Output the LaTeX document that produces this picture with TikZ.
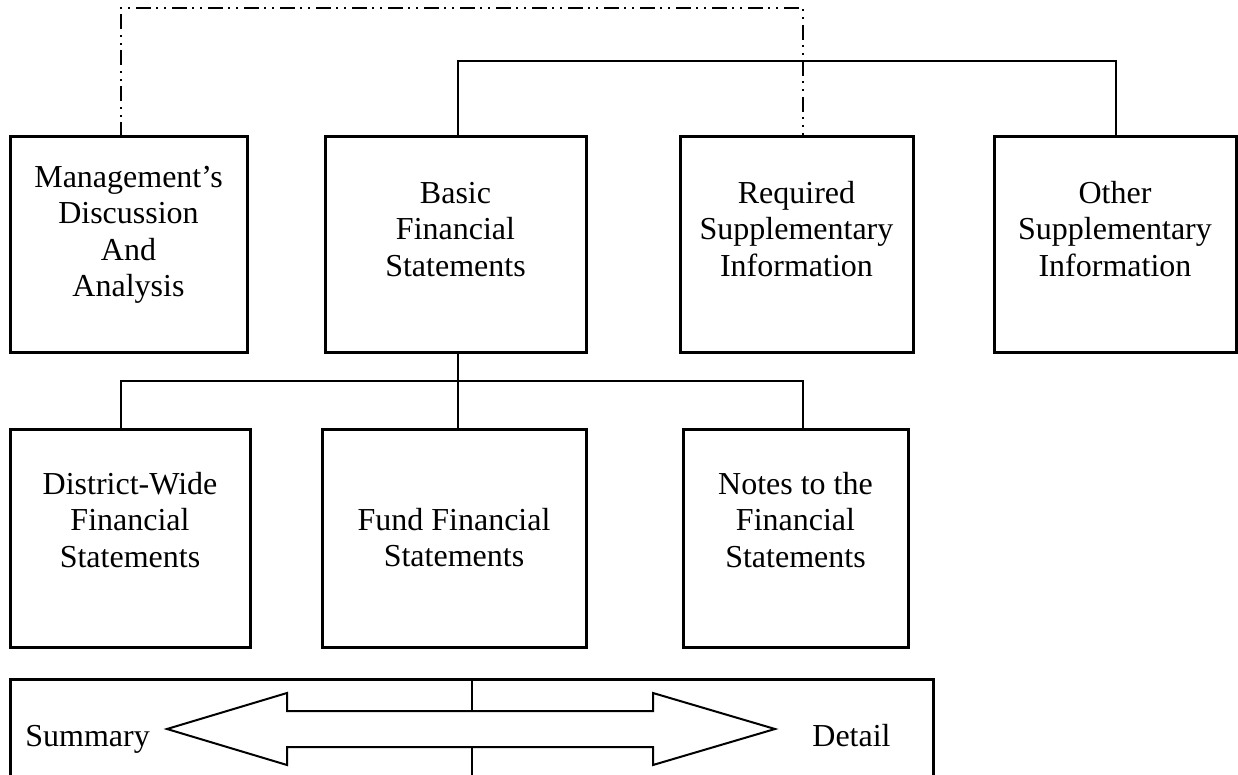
\documentclass[tikz,border=0pt]{standalone}
\usepackage{fontspec}
\setmainfont{Liberation Serif}
\begin{document}
\begin{tikzpicture}[x=0.5pt,y=-0.5pt,
  box/.style={draw, line width=1.5pt, inner sep=0pt, outer sep=0pt},
  lbl/.style={align=center, anchor=north, inner sep=0pt, font=\fontsize{16}{18.25}\selectfont},
  txt/.style={inner sep=0pt, font=\fontsize{16}{18.25}\selectfont},
  conn/.style={line width=1pt},
  thinconn/.style={line width=0.8pt},
  dd/.style={line width=0.9pt, dash pattern=on 7.5pt off 2.5pt on 1pt off 3pt on 1pt off 3pt}]
\useasboundingbox (0,0) rectangle (1238,775);
\clip (0,0) rectangle (1238,775);

% top row boxes
\node[box, minimum width=118.5pt, minimum height=108pt] (mda) at (128.5,245) {};
\node[box, minimum width=130.5pt, minimum height=108pt] (basic) at (455.5,245) {};
\node[box, minimum width=116.5pt, minimum height=108pt] (req) at (796.5,245) {};
\node[box, minimum width=121pt, minimum height=108pt] (other) at (1115,245) {};

% second row boxes
\node[box, minimum width=120pt, minimum height=108.5pt] (dist) at (130,538.5) {};
\node[box, minimum width=132pt, minimum height=108.5pt] (fund) at (454,538.5) {};
\node[box, minimum width=112.5pt, minimum height=108.5pt] (notes) at (795.5,538.5) {};

% labels
\node[lbl] (mdat) at (128.5,161.5) {\strut Management’s\\Discussion\\And\\Analysis};
\node[lbl] (basict) at (455.5,177.5) {\strut Basic\\Financial\\Statements};
\node[lbl] (reqt) at (796.5,177.5) {\strut Required\\Supplementary\\Information};
\node[lbl] (othert) at (1115,177.5) {\strut Other\\Supplementary\\Information};
\node[lbl] (distt) at (130,468.5) {\strut District-Wide\\Financial\\Statements};
\node[lbl] (fundt) at (454,504.5) {\strut Fund Financial\\Statements};
\node[lbl] (notest) at (795.5,468.5) {\strut Notes to the\\Financial\\Statements};

% connector guide coordinates
\coordinate (xm) at (121,0);
\coordinate (xb) at (458,0);
\coordinate (xr) at (803,0);
\coordinate (xo) at (1116,0);
\coordinate (ydd) at (0,8);
\coordinate (ytop) at (0,61);
\coordinate (ymid) at (0,381);

% connectors
\draw[dd] (mda.north -| xm) -- (xm |- ydd) -- (xr |- ydd) -- (req.north -| xr);
\draw[conn] (basic.north -| xb) -- (xb |- ytop) -- (xo |- ytop) -- (other.north -| xo);
\draw[thinconn] (basic.south -| xb) -- (fund.north -| xb);
\draw[thinconn] (dist.north -| xm) -- (xm |- ymid) -- (xr |- ymid) -- (notes.north -| xr);

% bottom scale box
\node[box, anchor=north west, minimum width=461.5pt, minimum height=75pt] (scale) at (10,679) {};
\coordinate (shT) at (472,711);
\coordinate (shB) at (472,747);
\draw[line width=1pt, line join=miter]
  (167,729) -- (287,693) -- (287,711) -- (653,711) -- (653,693) -- (775,729)
  -- (653,765) -- (653,747) -- (287,747) -- (287,765) -- cycle;
\draw[thinconn] (scale.north -| shT) -- (shT);
\draw[thinconn] (shB) -- (shB |- scale.south);

\node[txt, anchor=base west] (summ) at (25,746) {Summary};
\node[txt, anchor=base west] (det) at (812,746) {Detail};
\end{tikzpicture}
\end{document}
